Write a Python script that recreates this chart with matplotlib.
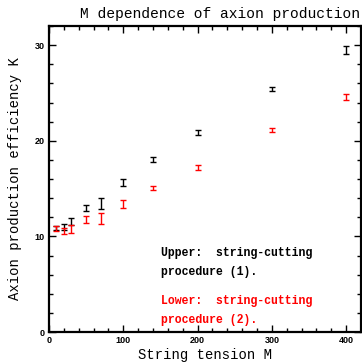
import matplotlib
matplotlib.use("Agg")
import matplotlib.pyplot as plt
from matplotlib.ticker import MultipleLocator

# Data
M_values = [10, 20, 30, 50, 70, 100, 140, 200, 300, 400]
upper_K = [10.9, 11.0, 11.55, 12.95, 13.45, 15.6, 18.0, 20.85, 25.4, 29.5]
upper_err = [0.2, 0.3, 0.4, 0.3, 0.6, 0.35, 0.25, 0.25, 0.2, 0.45]
lower_K = [10.85, 10.6, 10.75, 11.75, 11.85, 13.4, 15.05, 17.2, 21.1, 24.6]
lower_err = [0.25, 0.3, 0.4, 0.35, 0.6, 0.45, 0.25, 0.25, 0.2, 0.3]

title = "M dependence of axion production"
xlabel = "String tension M"
ylabel = "Axion production efficiency K"

W, H = 362, 364
fig = plt.figure(figsize=(W / 100, H / 100), dpi=100)
L, R, T, B = 49, 361, 26, 332
ax = fig.add_axes([L / W, 1 - B / H, (R - L) / W, (B - T) / H])

ax.errorbar(M_values, upper_K, yerr=upper_err, fmt='none', ecolor='black',
            elinewidth=1.0, capsize=2.2, capthick=1.0)
ax.errorbar(M_values, lower_K, yerr=lower_err, fmt='none', ecolor='#ff0000',
            elinewidth=1.0, capsize=2.2, capthick=1.0)

ax.set_xlim(0, 420)
ax.set_ylim(0, 32)
ax.xaxis.set_major_locator(MultipleLocator(100))
ax.xaxis.set_minor_locator(MultipleLocator(20))
ax.yaxis.set_major_locator(MultipleLocator(10))
ax.yaxis.set_minor_locator(MultipleLocator(2))
ax.tick_params(which='both', direction='in', top=True, right=True, width=1.0)
ax.tick_params(which='major', length=5, labelsize=6.5, pad=3)
ax.tick_params(which='minor', length=3)
for lab in ax.get_xticklabels() + ax.get_yticklabels():
    lab.set_fontweight('bold')
    lab.set_family('Liberation Sans')
for s in ax.spines.values():
    s.set_linewidth(1.6)

mono = 'Liberation Mono'
fig.text(220 / W, 1 - 14 / H, title, ha='center', va='center', family=mono, fontsize=10.5)
fig.text(205 / W, 1 - 355 / H, xlabel, ha='center', va='center', family=mono, fontsize=10)
fig.text(15 / W, 1 - 179 / H, ylabel, ha='center', va='center', rotation=90, family=mono, fontsize=10)

tx = 161 / W
fig.text(tx, 1 - 253 / H, "Upper:  string-cutting", ha='left', va='center', family=mono,
         fontsize=8.3, fontweight='bold', color='black')
fig.text(tx, 1 - 272 / H, "procedure (1).", ha='left', va='center', family=mono,
         fontsize=8.3, fontweight='bold', color='black')
fig.text(tx, 1 - 301 / H, "Lower:  string-cutting", ha='left', va='center', family=mono,
         fontsize=8.3, fontweight='bold', color='#ff0000')
fig.text(tx, 1 - 319.5 / H, "procedure (2).", ha='left', va='center', family=mono,
         fontsize=8.3, fontweight='bold', color='#ff0000')

fig.savefig("out.png", dpi=100)
